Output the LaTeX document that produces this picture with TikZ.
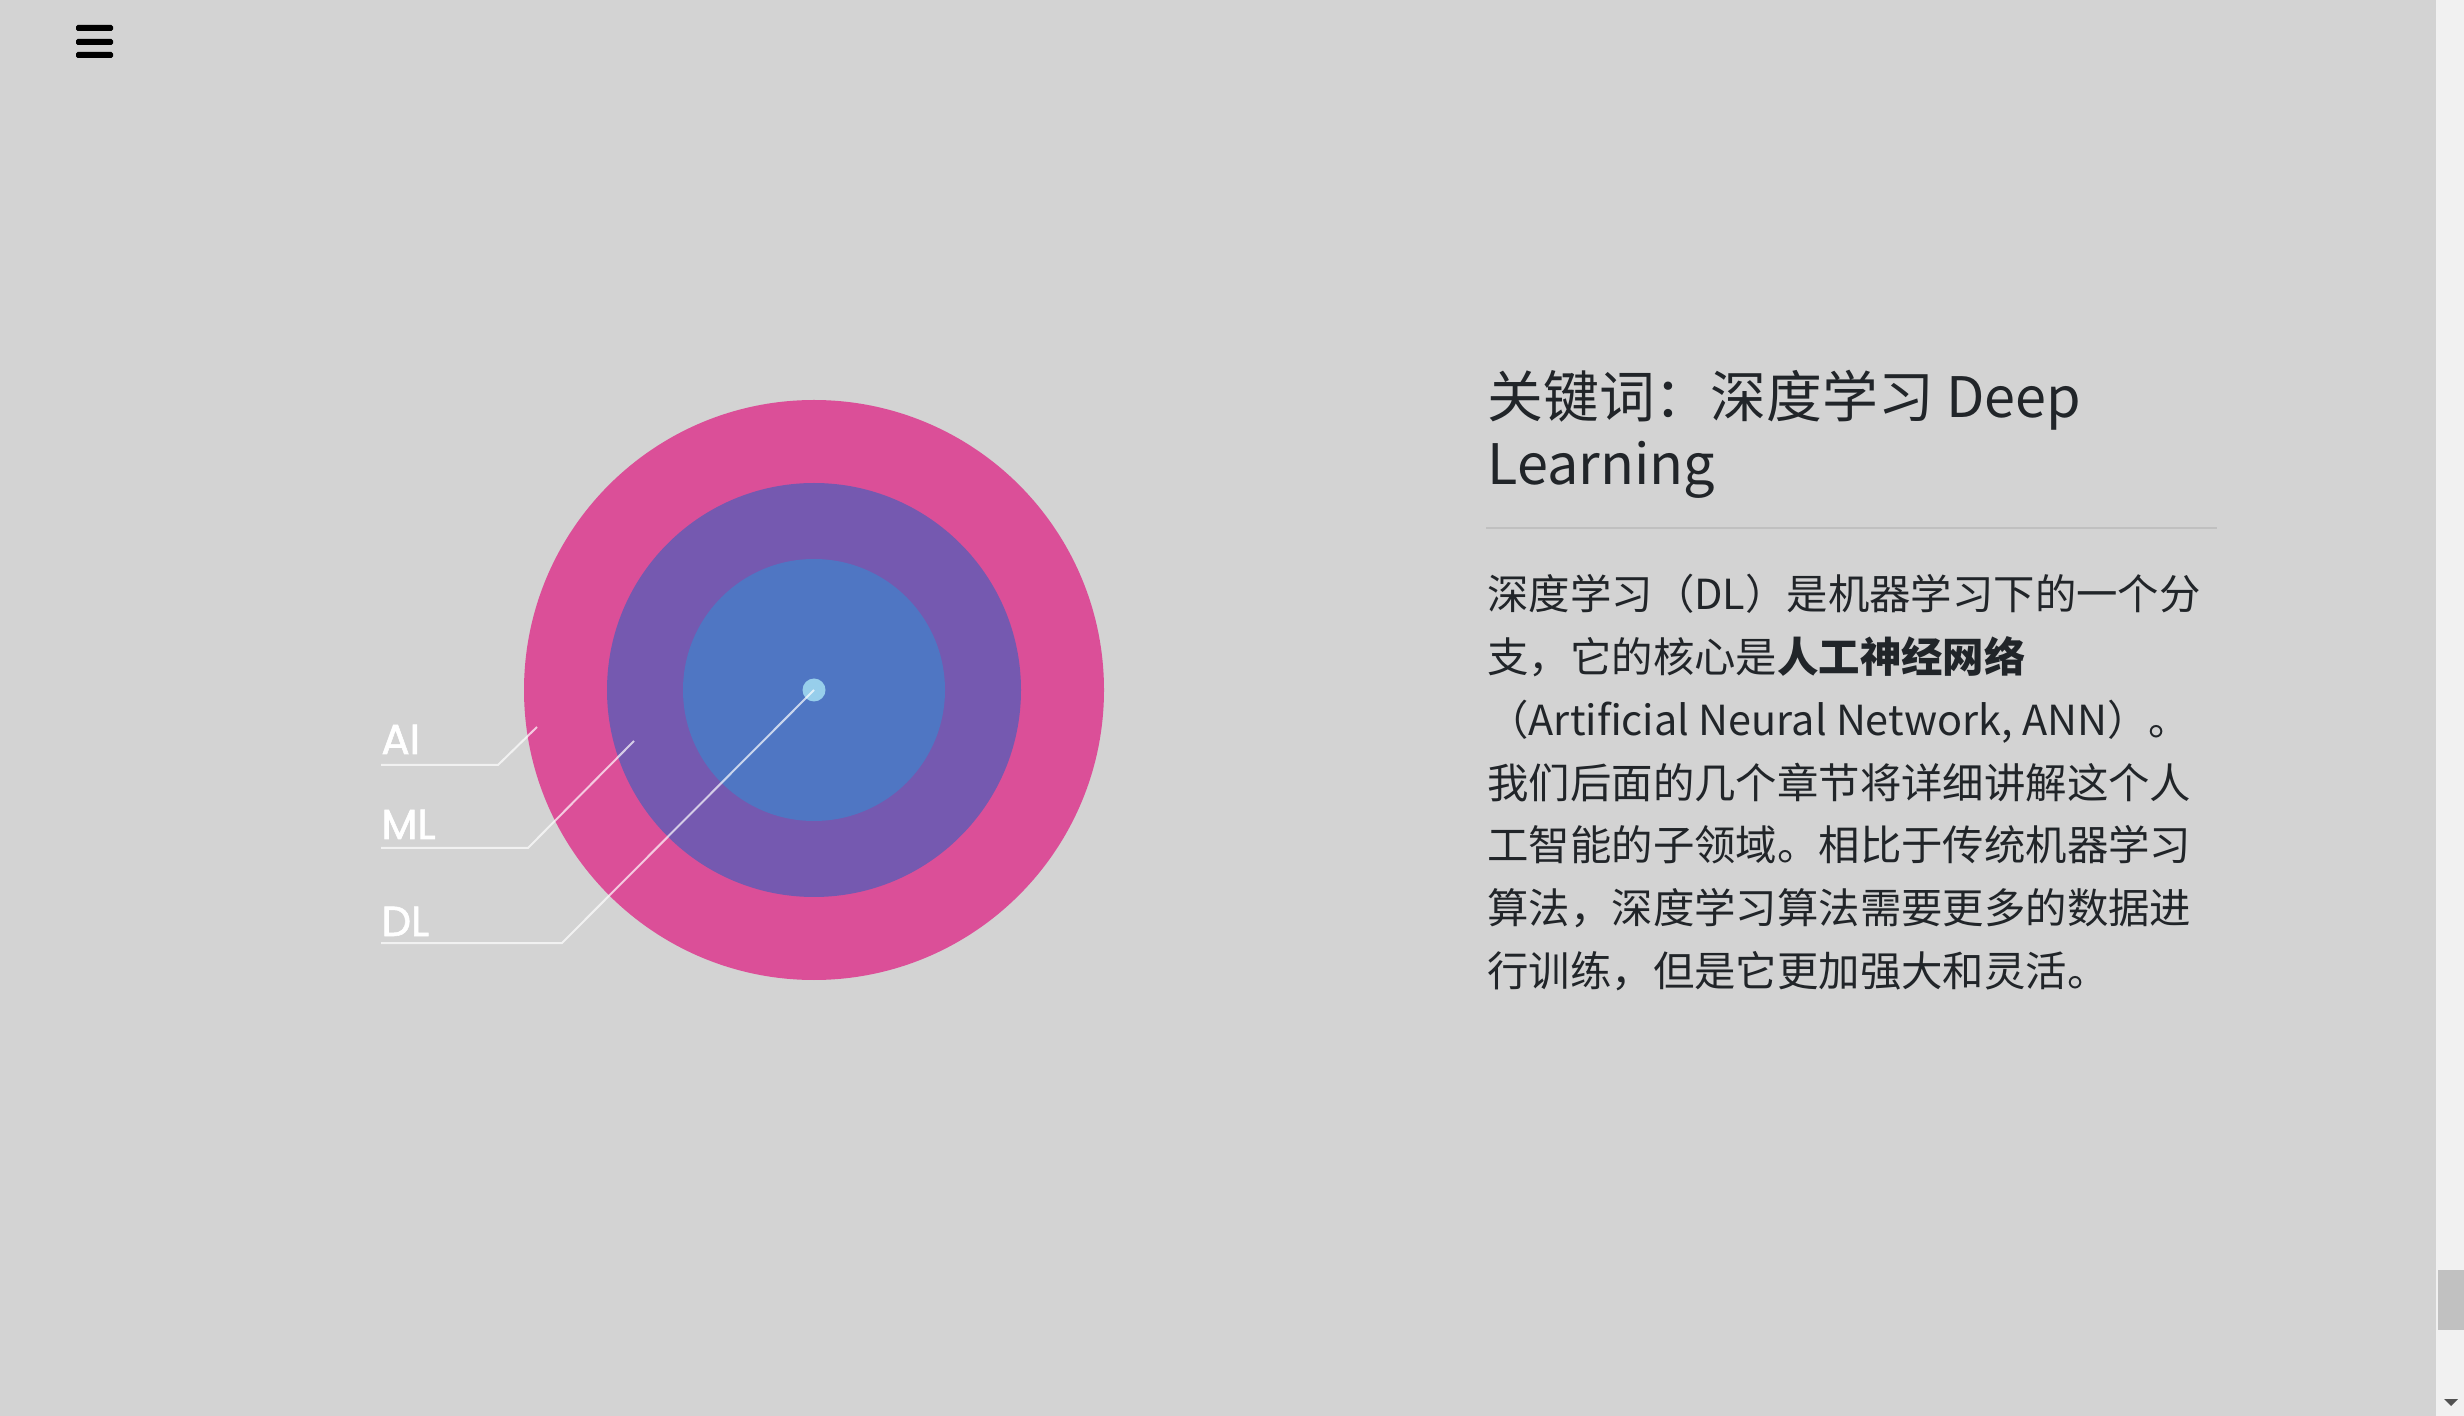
\documentclass[tikz,border=0pt]{standalone}
\usepackage{fontspec}
\setmainfont{Noto Sans CJK SC}
\newfontfamily\labelfont{Poppins}[FakeBold=1.5]
\definecolor{pagegray}{RGB}{211, 211, 211}
\definecolor{ringpink}{RGB}{219, 79, 152}
\definecolor{ringpurple}{RGB}{117, 89, 176}
\definecolor{ringblue}{RGB}{79, 118, 195}
\definecolor{dotblue}{RGB}{151, 206, 235}
\definecolor{inkdark}{RGB}{33, 37, 41}
\definecolor{rulegray}{RGB}{192, 192, 192}
\definecolor{trackgray}{RGB}{241, 241, 241}
\definecolor{thumbgray}{RGB}{193, 193, 193}
\usetikzlibrary{positioning, calc}

\tikzset{
  ring/.style={circle, inner sep=0pt, fill=#1},
  leader/.style={draw=white, draw opacity=0.7, line width=1pt},
  ringlabel/.style={font=\labelfont\fontsize{21pt}{25pt}\selectfont, text=white, inner sep=0pt, anchor=base west},
  titleline/.style={font=\fontsize{27.9pt}{34pt}\selectfont, text=inkdark, inner sep=0pt, anchor=base west},
  bodyline/.style={font=\fontsize{20.7pt}{31pt}\selectfont, text=inkdark, inner sep=0pt, anchor=base west}
}

\begin{document}
\begin{tikzpicture}[x=0.5pt, y=-0.5pt]
  % page
  \fill[pagegray] (0,0) rectangle (2464,1416);
  \useasboundingbox (0,0) rectangle (2464,1416);

  % menu icon
  \foreach \y in {28,42,55}
    \fill[black, rounded corners=0.8pt] (76,\y-3) rectangle (113,\y+3);

  % rings
  \node[ring=ringpink, minimum size=290pt] (ai) at (814,690) {};
  \node[ring=ringpurple, minimum size=207pt] (ml) at (ai.center) {};
  \node[ring=ringblue, minimum size=131pt] (dl) at (ai.center) {};
  \node[ring=dotblue, minimum size=11.5pt] (dot) at (dl.center) {};

  % labels
  \node[ringlabel] (ailab) at (381,754) {AI};
  \node[ringlabel] (mllab) at (381,839) {ML};
  \node[ringlabel] (dllab) at (381,936) {DL};

  \coordinate (ai-a) at (381,765);
  \coordinate (ai-b) at (498,765);
  \coordinate (ai-c) at (537,727);
  \coordinate (ml-a) at (381,848);
  \coordinate (ml-b) at (528,848);
  \coordinate (ml-c) at (634,741);
  \coordinate (dl-a) at (381,943);
  \coordinate (dl-b) at (562,943);

  \draw[leader] (ai-a) -- (ai-b) -- (ai-c);
  \draw[leader] (ml-a) -- (ml-b) -- (ml-c);
  \draw[leader] (dl-a) -- (dl-b) -- (dot.center);

  % text block
  \node[titleline] (title1) at (1487,418) {关键词：深度学习 Deep};
  \node[titleline] (title2) at (1487,485) {Learning};
  \coordinate (rule-a) at (1486,528);
  \coordinate (rule-b) at (2217,528);
  \draw[rulegray, line width=1.2pt] (rule-a) -- (rule-b);

  \foreach \txt [count=\i from 0] in {
      深度学习（DL）是机器学习下的一个分,
      {支，它的核心是{\bfseries 人工神经网络}},
      {（Artificial Neural Network, ANN）。},
      我们后面的几个章节将详细讲解这个人,
      工智能的子领域。相比于传统机器学习,
      算法，深度学习算法需要更多的数据进,
      行训练，但是它更加强大和灵活。}
    \node[bodyline] (body\i) at (1487,{610+62.7*\i}) {\txt};

  % scrollbar
  \fill[trackgray] (2436,0) rectangle (2464,1416);
  \fill[thumbgray] (2438,1270) rectangle (2464,1330);
  \fill[black!68] (2444,1399) -- (2458,1399) -- (2451,1406) -- cycle;
\end{tikzpicture}
\end{document}
